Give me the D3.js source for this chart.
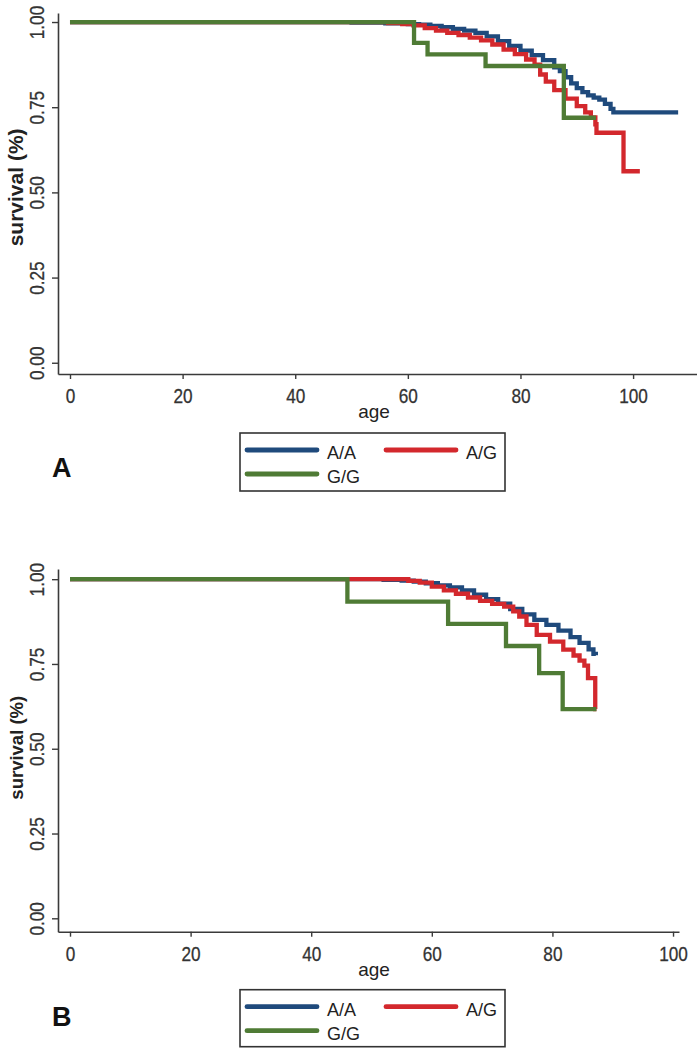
<!DOCTYPE html>
<html>
<head>
<meta charset="utf-8">
<script src="https://cdn.jsdelivr.net/npm/d3@7"></script>
<style>
  html, body { margin: 0; padding: 0; background: #fff; }
  svg { display: block; }
  text { font-family: "Liberation Sans", Arial, sans-serif; }
</style>
</head>
<body>
<svg id="chart" width="697" height="1055"></svg>
<script>
// ---------- data ----------
const groups = ["A/A", "A/G", "G/G"];
const ageTicks = [0, 20, 40, 60, 80, 100];
const survTicks = [0, 0.25, 0.5, 0.75, 1];
const panelLabels = ["A", "B"];
const xTitle = "age";
const yTitle = "survival (%)";

// Panel A: [age, survival]
const aAA = [[0,1],[50,0.998],[56,0.996],[60,0.994],[62,0.992],[64,0.989],[66,0.985],[68,0.980],[70,0.975],[72,0.968],[74,0.958],[76,0.944],[78,0.930],[80,0.916],[82,0.903],[84,0.888],[86,0.867],[87,0.856],[88,0.838],[89,0.820],[90,0.806],[91,0.794],[92,0.785],[93,0.778],[94,0.772],[95,0.760],[96,0.745],[96.5,0.735],[108,0.735]];
const aAG = [[0,1],[56.5,0.997],[59,0.994],[61,0.990],[63,0.982],[65,0.975],[67,0.968],[69,0.962],[71,0.954],[73,0.946],[75,0.934],[77,0.919],[79,0.906],[81,0.890],[82.5,0.875],[83.5,0.846],[84.5,0.825],[86,0.800],[88,0.775],[90,0.753],[91.5,0.735],[92.5,0.720],[93.3,0.700],[93.5,0.675],[98.3,0.562],[101.2,0.562]];
const aGG = [[0,1],[61.1,0.939],[63.5,0.905],[73.8,0.871],[87.7,0.719],[93.4,0.719]];

// Panel B: [age, survival]
const bAA = [[0,1],[52,0.998],[55,0.996],[57,0.993],[59,0.988],[61,0.982],[63,0.976],[65,0.967],[67,0.954],[69,0.941],[71,0.928],[73,0.912],[75,0.896],[77,0.880],[79,0.865],[81,0.848],[83,0.829],[84.5,0.812],[86,0.793],[86.8,0.780],[87.2,0.776]];
const bAG = [[0,1],[56.1,0.995],[58,0.990],[60,0.978],[62,0.967],[64,0.957],[66,0.946],[68,0.936],[70,0.927],[72,0.919],[73.5,0.905],[74.5,0.890],[75.7,0.865],[77.4,0.836],[79.6,0.816],[81.8,0.792],[83.5,0.775],[84.5,0.760],[85.3,0.745],[85.9,0.708],[87.1,0.617],[87.3,0.617]];
const bGG = [[0,1],[46,0.934],[62.7,0.868],[72.3,0.803],[77.8,0.723],[81.7,0.617],[87.3,0.617]];

// ---------- style ----------
const colors = ["#1f4a7c", "#d3282d", "#4f7b35"];
const axisColor = "#3a3a3a";
const tickTextColor = "#333";

const svg = d3.select("#chart");

function drawPanel(cfg, seriesList, label) {
  const g = svg.append("g");
  const x = d3.scaleLinear().domain(cfg.xDom).range([cfg.left, cfg.right]);
  const y = d3.scaleLinear().domain(cfg.yDom).range([cfg.bottom, cfg.top]);

  // curves
  const line = d3.line().x(d => x(d[0])).y(d => y(d[1])).curve(d3.curveStepAfter);
  seriesList.forEach((s, i) => {
    g.append("path").datum(s)
      .attr("d", line)
      .attr("fill", "none")
      .attr("stroke", colors[i])
      .attr("stroke-width", 4.3)
      .attr("stroke-linejoin", "miter");
  });

  // x axis
  const xa = g.append("g").attr("transform", `translate(0,${cfg.bottom})`)
    .call(d3.axisBottom(x).tickValues(ageTicks).tickSize(5).tickSizeOuter(0).tickFormat(d3.format("d")));
  xa.attr("font-size", null).attr("font-family", null);
  xa.select(".domain").attr("stroke", axisColor).attr("stroke-width", 1.6);
  xa.selectAll(".tick line").attr("stroke", axisColor).attr("stroke-width", 1.4);
  xa.selectAll(".tick text")
    .attr("y", 29).attr("dy", 0)
    .attr("transform", "scale(0.86,1)")
    .attr("fill", tickTextColor)
    .attr("stroke", tickTextColor).attr("stroke-width", 0.3)
    .attr("font-size", 20)
    .style("font-size", "20px");

  // y axis
  const ya = g.append("g").attr("transform", `translate(${cfg.left},0)`)
    .call(d3.axisLeft(y).tickValues(survTicks).tickSize(6).tickSizeOuter(0).tickFormat(d3.format(".2f")));
  ya.attr("font-size", null).attr("font-family", null);
  ya.select(".domain").attr("stroke", axisColor).attr("stroke-width", 1.6);
  ya.selectAll(".tick line").attr("stroke", axisColor).attr("stroke-width", 1.4);
  ya.selectAll(".tick text")
    .attr("x", 0).attr("y", -14).attr("dy", 0)
    .attr("text-anchor", "middle")
    .attr("transform", "rotate(-90) scale(0.86,1)")
    .attr("fill", tickTextColor)
    .attr("stroke", tickTextColor).attr("stroke-width", 0.3)
    .attr("font-size", 20)
    .style("font-size", "20px");

  // titles
  g.append("text")
    .attr("transform", `translate(23,${(y(0) + y(1)) / 2 - cfg.yTitleShift}) rotate(-90)`)
    .attr("text-anchor", "middle")
    .attr("font-weight", "bold")
    .attr("fill", "#222")
    .style("font-size", cfg.yTitleSize + "px")
    .text(yTitle);

  g.append("text")
    .attr("x", 374).attr("y", cfg.bottom + 44)
    .attr("text-anchor", "middle")
    .attr("fill", "#222")
    .style("font-size", "19px")
    .text(xTitle);

  // legend
  const lg = g.append("g").attr("transform", `translate(240,${cfg.bottom + cfg.legendOffset})`);
  lg.append("rect").attr("x", 0).attr("y", 0).attr("width", 265).attr("height", cfg.legendH)
    .attr("fill", "#fff").attr("stroke", "#333").attr("stroke-width", 1.6);
  const items = [
    { dx: 7, dy: cfg.legendRow1 },
    { dx: 146, dy: cfg.legendRow1 },
    { dx: 7, dy: cfg.legendRow1 + 24 }
  ];
  groups.forEach((name, i) => {
    const it = items[i];
    lg.append("line")
      .attr("x1", it.dx).attr("x2", it.dx + 70)
      .attr("y1", it.dy).attr("y2", it.dy)
      .attr("stroke", colors[i]).attr("stroke-width", 4.8).attr("stroke-linecap", "round");
    lg.append("text")
      .attr("x", it.dx + 80).attr("y", it.dy + 9)
      .attr("fill", "#222")
      .style("font-size", "18px")
      .text(name);
  });

  // panel letter
  g.append("text")
    .attr("x", 52).attr("y", cfg.letterY)
    .attr("font-weight", "bold")
    .attr("fill", "#111")
    .style("font-size", "27px")
    .text(label);
}

drawPanel({
  left: 58, right: 697, top: 13, bottom: 374,
  xDom: [-2.13, 111.35], yDom: [-0.033, 1.0265],
  legendOffset: 59, legendH: 58, legendRow1: 17,
  letterY: 477, yTitleSize: 21, yTitleShift: 5
}, [aAA, aAG, aGG], panelLabels[0]);

drawPanel({
  left: 58, right: 679, top: 569, bottom: 931.7,
  xDom: [-1.99, 100.99], yDom: [-0.0395, 1.030],
  legendOffset: 58, legendH: 57, legendRow1: 17,
  letterY: 1026, yTitleSize: 18.5, yTitleShift: 1
}, [bAA, bAG, bGG], panelLabels[1]);
</script>
</body>
</html>
